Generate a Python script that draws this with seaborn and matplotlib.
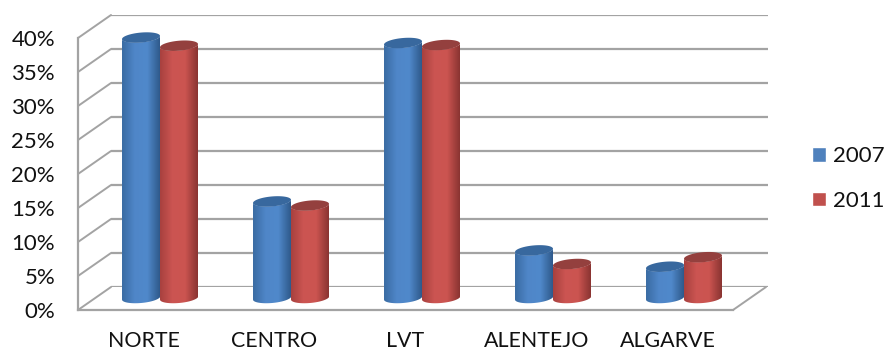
import numpy as np
import pandas as pd
import seaborn as sns
import matplotlib.pyplot as plt
from matplotlib.colors import LinearSegmentedColormap
from matplotlib.patches import Polygon

# Data
regions = ["NORTE", "CENTRO", "LVT", "ALENTEJO", "ALGARVE"]
share_2007 = [38.3, 14.2, 37.5, 7.0, 4.6]
share_2011 = [37.1, 13.6, 37.2, 5.0, 6.0]
y_ticks = [0, 5, 10, 15, 20, 25, 30, 35, 40]

df = pd.DataFrame(
    {
        "region": regions * 2,
        "share": share_2007 + share_2011,
        "year": ["2007"] * 5 + ["2011"] * 5,
    }
)

sns.set_theme(style="white")
plt.rcParams["font.family"] = ["Lato", "DejaVu Sans"]

W, H = 885, 350
text_col = "#111111"
wall_col = "#a3a3a3"
colors = {"2007": "#4f81bd", "2011": "#c0504d"}
top_colors = ["#38689e", "#94403e"]
cmaps = [
    LinearSegmentedColormap.from_list("b", ["#3a6ca3", "#4f86c8", "#5089cb", "#2f5a8c"]),
    LinearSegmentedColormap.from_list("r", ["#a8413f", "#cc5552", "#cb5450", "#8a3432"]),
]


def px_axes(fig, left, right, top, bottom, zorder):
    ax = fig.add_axes(
        [left / W, 1 - bottom / H, (right - left) / W, (bottom - top) / H],
        zorder=zorder,
    )
    ax.patch.set_alpha(0)
    return ax


fig = plt.figure(figsize=(W / 100, H / 100), dpi=100)

# Plot plane and depth of the 3D box, in pixels of the figure
x0, x1, y40, y00 = 78, 733, 38, 310
back_dx, back_dy = 33, 23
bar_dx, bar_dy = 16.5, 12
px_per_cat = (x1 - x0) / 5
px_per_pct = (y00 - y40) / 40

# Back wall
ax_back = px_axes(fig, x0 + back_dx, x1 + back_dx + 2, y40 - back_dy, y00 - back_dy, 0)
ax_back.set_ylim(0, 40)
ax_back.set_yticks(y_ticks)
ax_back.set_xticks([])
ax_back.tick_params(left=False, labelleft=False)
ax_back.grid(axis="y", color=wall_col, linewidth=1.6)
sns.despine(ax=ax_back, left=True, bottom=True)

# Front axis with ticks and the diagonals of side wall and floor
ax = px_axes(fig, x0, x1, y40, y00, 1)
ax.set_xlim(-0.5, 4.5)
ax.set_ylim(0, 40)
ax.set_yticks(y_ticks)
ax.set_yticklabels([str(t) + "%" for t in y_ticks])
ax.set_xticks(np.arange(-0.5, 5))
ax.set_xticklabels([])
ax.set_xticks(np.arange(5), labels=regions, minor=True)
ax.tick_params(axis="y", length=5, width=1.3, color=wall_col, pad=11.5, labelsize=16, labelcolor=text_col)
ax.tick_params(axis="x", which="major", length=6, width=1.3, color=wall_col)
ax.tick_params(axis="x", which="minor", length=0, pad=15, labelsize=15.4, labelcolor=text_col)
for side in ["left", "bottom"]:
    ax.spines[side].set_color(wall_col)
    ax.spines[side].set_linewidth(1.6)
sns.despine(ax=ax)

dx_data = back_dx / px_per_cat
dy_data = back_dy / px_per_pct
for t in y_ticks:
    ax.plot([-0.5, -0.5 + dx_data], [t, t + dy_data], color=wall_col, lw=1.4, clip_on=False)
ax.plot([4.5, 4.5 + dx_data], [0, dy_data], color=wall_col, lw=1.4, clip_on=False)

# Bars, standing in the middle of the box depth
pad_pct = 3
ax_bars = px_axes(
    fig,
    x0 + bar_dx,
    x1 + bar_dx,
    y40 - bar_dy,
    y00 - bar_dy + pad_pct * px_per_pct,
    2,
)
sns.barplot(
    data=df,
    x="region",
    y="share",
    hue="year",
    palette=colors,
    order=regions,
    width=0.58,
    gap=0,
    saturation=1,
    ax=ax_bars,
)
ax_bars.set_xlim(-0.5, 4.5)
ax_bars.set_ylim(-pad_pct, 40)

# Cylinder shading on each bar
ry = 5 / px_per_pct
tilt = 1.6 / px_per_pct
t = np.linspace(0, np.pi, 40)
grad = np.linspace(0, 1, 64).reshape(1, -1)
for k, container in enumerate(ax_bars.containers):
    for bar in container:
        bx, bw = bar.get_x(), bar.get_width()
        top = bar.get_height()
        cx = bx + bw / 2
        ex = cx - np.cos(t) * bw / 2
        shear = -np.cos(t) * tilt
        low = np.column_stack([ex, -np.sin(t) * ry + shear])
        up_arc = np.column_stack([ex, top + np.sin(t) * ry + shear])
        up_low = np.column_stack([ex, top - np.sin(t) * ry + shear])

        outline = Polygon(np.vstack([low, up_low[::-1]]), transform=ax_bars.transData)
        im = ax_bars.imshow(
            grad,
            extent=[bx, bx + bw, -pad_pct, top + 2],
            aspect="auto",
            cmap=cmaps[k],
            zorder=3 + k,
        )
        im.set_clip_path(outline)
        bar.set_clip_path(outline)
        ax_bars.add_patch(
            Polygon(
                np.vstack([up_arc, up_low[::-1]]),
                facecolor=top_colors[k],
                edgecolor="none",
                zorder=3 + k,
            )
        )
ax_bars.set_xlim(-0.5, 4.5)
ax_bars.set_ylim(-pad_pct, 40)
ax_bars.axis("off")

# Legend
sns.move_legend(
    ax_bars,
    "center left",
    bbox_to_anchor=(812 / W, 1 - 178.5 / H),
    bbox_transform=fig.transFigure,
    title=None,
    frameon=False,
    fontsize=16,
    labelcolor=text_col,
    borderpad=0,
    borderaxespad=0,
    handlelength=0.64,
    handleheight=0.64,
    handletextpad=0.32,
    labelspacing=1.1,
)

fig.savefig("out.png", dpi=100)
